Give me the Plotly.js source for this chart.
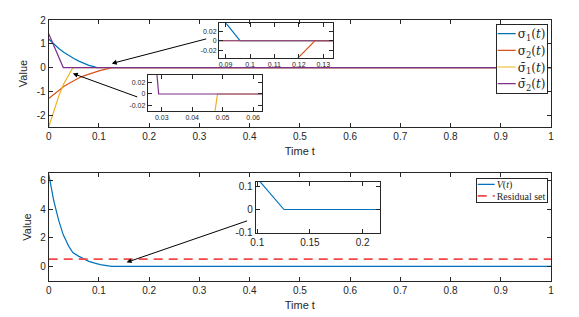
<!DOCTYPE html>
<html><head><meta charset="utf-8">
<script src="https://cdn.plot.ly/plotly-3.0.1.min.js"></script>
<style>html,body{margin:0;padding:0;background:#fff}</style>
</head><body><div id="g" style="width:579px;height:317px"></div>
<script>
// sigma_1(t)
const tS1 = [0, 0.01, 0.02, 0.03, 0.04, 0.05, 0.06, 0.07, 0.08, 0.09, 0.0904, 0.0959, 1];
const vS1 = [1.2, 0.98, 0.80, 0.64, 0.50, 0.38, 0.27, 0.17, 0.09, 0.037, 0.035, 0, 0];
// sigma_2(t)
const tS2 = [0, 0.01, 0.02, 0.03, 0.04, 0.05, 0.06, 0.07, 0.08, 0.09, 0.10, 0.11, 0.12, 0.1266, 1];
const vS2 = [-1.3, -1.12, -0.95, -0.8, -0.67, -0.55, -0.44, -0.35, -0.27, -0.2, -0.14, -0.085, -0.035, 0, 0];
// bar sigma_1(t)
const tB1 = [0, 0.01, 0.02, 0.03, 0.04, 0.0475, 0.0483, 1];
const vB1 = [-2.5, -1.8, -1.2, -0.68, -0.28, -0.03, 0, 0];
// bar sigma_2(t)
const tB2 = [0, 0.01, 0.02, 0.0285, 0.029, 1];
const vB2 = [1.42, 0.93, 0.46, 0.03, 0, 0];
// V(t)
const tV = [0, 0.01, 0.02, 0.029, 0.04, 0.048, 0.06, 0.07, 0.08, 0.09, 0.1, 0.1026, 0.1253, 1];
const vV = [6.46, 4.6, 3.2, 2.2, 1.4, 0.97, 0.7, 0.5, 0.35, 0.24, 0.135, 0.12, 0, 0];
// Residual set
const tRes = [0, 1];
const vRes = [0.5, 0.5];

const names = ['σ<sub>1</sub>(<i>t</i>)', 'σ<sub>2</sub>(<i>t</i>)', 'σ̄<sub>1</sub>(<i>t</i>)', 'σ̄<sub>2</sub>(<i>t</i>)'];
const cols = ['#0072BD', '#D95319', '#EDB120', '#7E2F8E'];
const series = [[tS1, vS1], [tS2, vS2], [tB1, vB1], [tB2, vB2]];

const traces = [];
const topAxes = [['x', 'y'], ['x3', 'y3'], ['x4', 'y4']];
topAxes.forEach((ax, k) => {
  series.forEach((s, i) => {
    traces.push({x: s[0], y: s[1], xaxis: ax[0], yaxis: ax[1], mode: 'lines',
      name: names[i], line: {color: cols[i], width: 1.2}, showlegend: k === 0, legend: 'legend'});
  });
});
[['x2', 'y2'], ['x5', 'y5']].forEach((ax, k) => {
  traces.push({x: tV, y: vV, xaxis: ax[0], yaxis: ax[1], mode: 'lines', name: '<i>V</i>(<i>t</i>)',
    line: {color: '#0072BD', width: 1.2}, showlegend: k === 0, legend: 'legend2'});
});
traces.push({x: tRes, y: vRes, xaxis: 'x2', yaxis: 'y2', mode: 'lines', name: 'Residual set',
  line: {color: '#F24A4A', width: 1.8, dash: '9px,6px'}, showlegend: true, legend: 'legend2'});

const W = 579, H = 317;
const dx = (a, b) => [a / W, b / W];
const dy = (top, bot) => [1 - bot / H, 1 - top / H];
const tf = {family: 'Liberation Sans, Arial, sans-serif', size: 10, color: '#262626'};
const tfs = {family: 'Liberation Sans, Arial, sans-serif', size: 7, color: '#262626'};
function axis(dom, range, tv, tt, font, anchor, extra) {
  return Object.assign({domain: dom, range: range, tickvals: tv, ticktext: tt, tickfont: font,
    anchor: anchor, showline: true, linecolor: '#262626', linewidth: 1, mirror: 'ticks',
    ticks: 'inside', ticklen: 4, tickcolor: '#262626', showgrid: false, zeroline: false, fixedrange: true}, extra || {});
}
const xt = [0, 0.1, 0.2, 0.3, 0.4, 0.5, 0.6, 0.7, 0.8, 0.9, 1];
const xtt = ['0', '0.1', '0.2', '0.3', '0.4', '0.5', '0.6', '0.7', '0.8', '0.9', '1'];
const ttl = (s, st) => ({text: s, font: {family: 'Liberation Sans, Arial, sans-serif', size: 11, color: '#262626'}, standoff: st});

const layout = {
  width: W, height: H, margin: {l: 0, r: 0, t: 0, b: 0}, paper_bgcolor: '#fff', plot_bgcolor: 'rgba(0,0,0,0)',
  xaxis: axis(dx(48.7, 551), [0, 1], xt, xtt, tf, 'y', {title: ttl('Time t', 6)}),
  yaxis: axis(dy(20, 127), [-2.5, 2], [-2, -1, 0, 1, 2], ['-2', '-1', '0', '1', '2'], tf, 'x', {title: ttl('Value', 6)}),
  xaxis2: axis(dx(48.7, 551), [0, 1], xt, xtt, tf, 'y2', {title: ttl('Time t', 6)}),
  yaxis2: axis(dy(173.3, 280.7), [-1, 6.5], [0, 2, 4, 6], ['0', '2', '4', '6'], tf, 'x2', {title: ttl('Value', 6)}),
  xaxis3: axis(dx(219, 333), [0.0873, 0.134], [0.09, 0.1, 0.11, 0.12, 0.13], ['0.09', '0.1', '0.11', '0.12', '0.13'], tfs, 'y3'),
  yaxis3: axis(dy(23.3, 57.7), [-0.035, 0.036], [-0.02, 0, 0.02], ['-0.02', '0', '0.02'], tfs, 'x3'),
  xaxis4: axis(dx(147.7, 262.3), [0.0254, 0.063], [0.03, 0.04, 0.05, 0.06], ['0.03', '0.04', '0.05', '0.06'], tfs, 'y4'),
  yaxis4: axis(dy(75, 110.7), [-0.0296, 0.0336], [-0.02, 0, 0.02], ['-0.02', '0', '0.02'], tfs, 'x4'),
  xaxis5: axis(dx(255.7, 380.3), [0.0985, 0.2168], [0.1, 0.15, 0.2], ['0.1', '0.15', '0.2'], tf, 'y5'),
  yaxis5: axis(dy(181.7, 232.7), [-0.1, 0.12], [-0.1, 0, 0.1], ['-0.1', '0', '0.1'], tf, 'x5'),
  legend: {x: 546.7 / W, y: 1 - 24.3 / H, xanchor: 'right', yanchor: 'top', bgcolor: '#fff', bordercolor: '#262626', borderwidth: 1,
    font: {family: 'DejaVu Serif, serif', size: 12, color: '#262626'}, tracegroupgap: 0, itemwidth: 30},
  legend2: {x: 546.7 / W, y: 1 - 178.3 / H, xanchor: 'right', yanchor: 'top', bgcolor: '#fff', bordercolor: '#262626', borderwidth: 1,
    font: {family: 'Liberation Serif, serif', size: 10, color: '#262626'}, tracegroupgap: 0, itemwidth: 30},
  annotations: [
    {x: 0.1255, y: 0.17, xref: 'x', yref: 'y', ax: 96, ay: -25, showarrow: true, arrowhead: 2, arrowsize: 1, arrowwidth: 1, arrowcolor: '#000', text: ''},
    {x: 0.048, y: -0.25, xref: 'x', yref: 'y', ax: 66, ay: 24, showarrow: true, arrowhead: 2, arrowsize: 1, arrowwidth: 1, arrowcolor: '#000', text: ''},
    {x: 0.155, y: 0.28, xref: 'x2', yref: 'y2', ax: 122, ay: -42, showarrow: true, arrowhead: 2, arrowsize: 1, arrowwidth: 1, arrowcolor: '#000', text: ''}
  ]
};

// compact the legend boxes to MATLAB-like spacing
function compactLegend(cls, o) {
  const gs = document.querySelectorAll('g.' + cls);
  gs.forEach(g => {
    const bg = g.querySelector('rect.bg');
    const items = g.querySelectorAll('g.traces');
    items.forEach((it, i) => {
      it.setAttribute('transform', 'translate(0,' + (o.y0 + i * o.dy) + ')');
      it.querySelectorAll('path.js-line').forEach(p => p.setAttribute('d', 'M' + o.lx0 + ',0h' + o.llen));
      it.querySelectorAll('text.' + cls + 'text').forEach(tx => {
        tx.setAttribute('x', o.tx);
        tx.querySelectorAll('tspan[x]').forEach(ts => ts.setAttribute('x', o.tx));
      });
    });
    if (bg) { bg.setAttribute('width', o.w); bg.setAttribute('height', o.h); }
    g.setAttribute('transform', 'translate(' + (o.right - o.w) + ',' + o.top + ')');
  });
}
function applyAll() {
  compactLegend('legend', {y0: 9.3, dy: 16.7, lx0: 2, llen: 18, tx: 22, w: 51, h: 68.4, right: 546.7, top: 24.3});
  compactLegend('legend2', {y0: 6, dy: 11.5, lx0: 2, llen: 17, tx: 21, w: 71, h: 24, right: 546.7, top: 178.3});
}
Plotly.newPlot('g', traces, layout, {staticPlot: true, displayModeBar: false}).then(() => {
  applyAll();
  setTimeout(applyAll, 50);
  setTimeout(applyAll, 300);
});
</script></body></html>
